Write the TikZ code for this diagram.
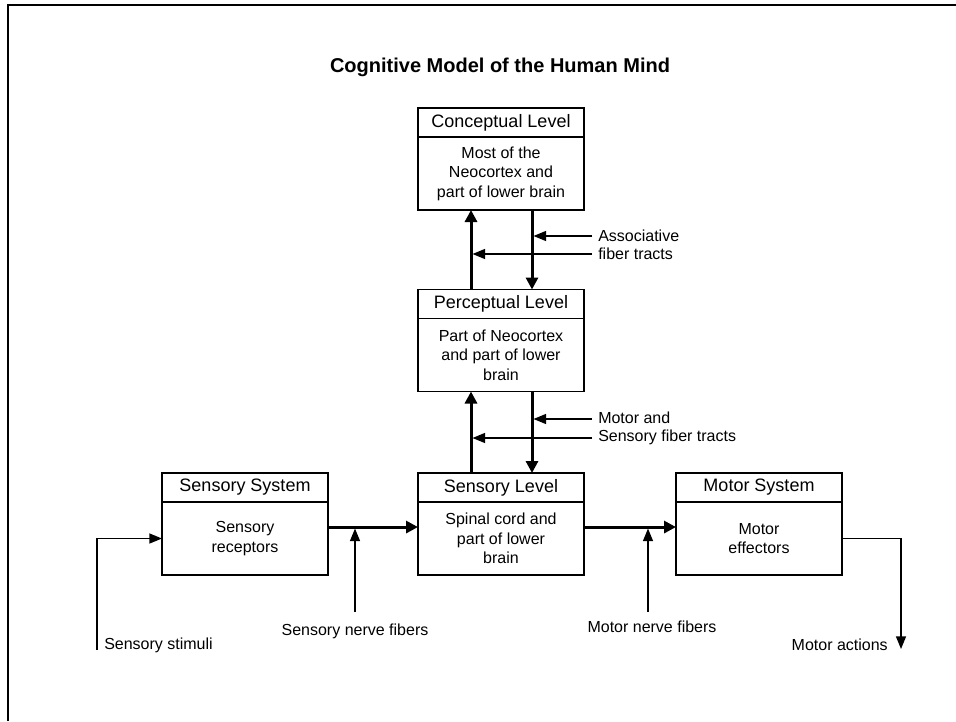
\documentclass[tikz,border=0pt]{standalone}
\usepackage{fontspec}
\setmainfont{Liberation Sans}
\usetikzlibrary{arrows.meta, positioning}
\tikzstyle{levtitle} = [rectangle, draw=black, line width=1pt, outer sep=0pt, inner sep=0pt, minimum width=124.5pt, minimum height=21.75pt, font=\fontsize{13.5}{16}\selectfont]
\tikzstyle{levbody} = [rectangle, draw=black, line width=1pt, outer sep=0pt, inner sep=0pt, minimum width=124.5pt, minimum height=54.75pt, align=center, font=\fontsize{12}{14.6}\selectfont]
\tikzstyle{bigarrow} = [line width=2.25pt, -{Triangle[length=9pt, width=9pt]}]
\tikzstyle{arrow} = [line width=1.1pt, -{Triangle[length=9.5pt, width=7.5pt]}]
\tikzstyle{note} = [inner sep=0pt, align=left, font=\fontsize{12}{13.5}\selectfont]

\begin{document}
\begin{tikzpicture}[x=0.75pt, y=-0.75pt]
\useasboundingbox (0,0) rectangle (956,721);
\draw [line width=1.5pt] (8,721) -- (8,5) -- (956,5);
\node (mainTitle) at (500,67) {\fontsize{15}{18}\selectfont\bfseries Cognitive Model of the Human Mind};
%----------------------------------------------------------------------------
% Placement of the level boxes
\node (conTitle) [levtitle] at (501,122.5) {Conceptual Level};
\node (conBody) [levbody, below=0pt of conTitle] {Most of the\\Neocortex and\\part of lower brain};

\node (perTitle) [levtitle] at (501,304) {Perceptual Level};
\node (perBody) [levbody, below=0pt of perTitle] {Part of Neocortex\\and part of lower\\brain};

\node (senTitle) [levtitle] at (501,487.5) {Sensory Level};
\node (senBody) [levbody, below=0pt of senTitle] {Spinal cord and\\part of lower\\brain};

\node (ssTitle) [levtitle, left=67.5pt of senTitle] {Sensory System};
\node (ssBody) [levbody, below=0pt of ssTitle] {Sensory\\receptors};

\node (msTitle) [levtitle, right=69pt of senTitle] {Motor System};
\node (msBody) [levbody, below=0pt of msTitle] {Motor\\effectors};

%----------------------------------------------------------------------------
% Lines
\coordinate (conUp) at ([xshift=-22.5pt]conBody.south);
\coordinate (conDown) at ([xshift=23.25pt]conBody.south);
\draw [bigarrow] (conUp |- perTitle.north) -- (conUp);
\draw [bigarrow] (conDown) -- (conDown |- perTitle.north);

\coordinate (perUp) at ([xshift=-22.5pt]perBody.south);
\coordinate (perDown) at ([xshift=23.25pt]perBody.south);
\draw [bigarrow] (perUp |- senTitle.north) -- (perUp);
\draw [bigarrow] (perDown) -- (perDown |- senTitle.north);

\coordinate (ssOut) at ([yshift=8.6pt]ssBody.east);
\draw [bigarrow] (ssOut) -- (ssOut -| senBody.west);
\coordinate (senOut) at ([yshift=8.6pt]senBody.east);
\draw [bigarrow] (senOut) -- (senOut -| msBody.west);

\coordinate (stim) at (97,650);
\draw [arrow] (stim) |- (ssBody.west);
\coordinate (act) at (901,649);
\draw [arrow] (msBody.east) -| (act);

%----------------------------------------------------------------------------
% Notes
\node [note, anchor=west] (assocNote) at (598,245) {Associative\\fiber tracts};
\coordinate (assocA) at (592,236);
\coordinate (assocB) at (592,254);
\draw [arrow, shorten >=1.1pt] (assocA) -- (assocA -| conDown);
\draw [arrow, shorten >=1.1pt] (assocB) -- (assocB -| conUp);

\node [note, anchor=west] (tractNote) at (598,428.5) {Motor and\\Sensory fiber tracts};
\coordinate (tractA) at (592,419);
\coordinate (tractB) at (592,438);
\draw [arrow, shorten >=1.1pt] (tractA) -- (tractA -| perDown);
\draw [arrow, shorten >=1.1pt] (tractB) -- (tractB -| perUp);

\node [note] (snfNote) at (355,631) {Sensory nerve fibers};
\coordinate (snfStart) at (355,612);
\draw [arrow, shorten >=1.1pt] (snfStart) -- (snfStart |- ssOut);

\node [note] (mnfNote) at (652,627) {Motor nerve fibers};
\coordinate (mnfStart) at (648,612);
\draw [arrow, shorten >=1.1pt] (mnfStart) -- (mnfStart |- senOut);

\node [note, anchor=west] (stimNote) at (104,645) {Sensory stimuli};
\node [note, anchor=east] (actNote) at (888,645) {Motor actions};
\end{tikzpicture}
\end{document}
